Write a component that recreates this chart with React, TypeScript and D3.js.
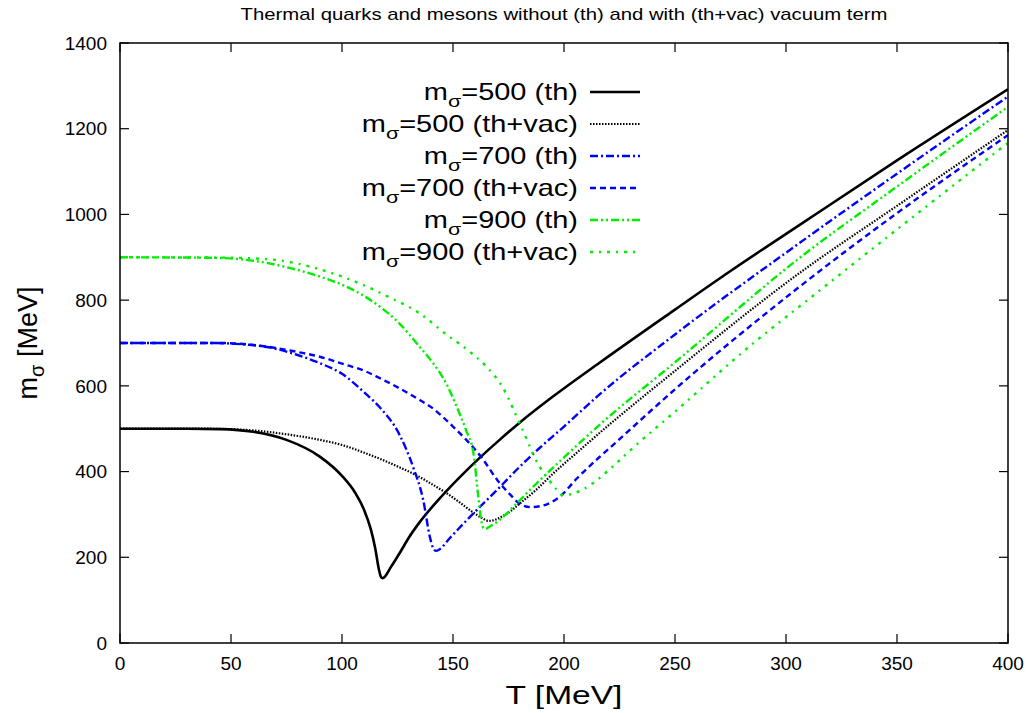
import React, { useEffect, useRef } from "react";
import * as d3 from "d3";

const W = 1031;
const H = 713;

const titleText = "Thermal quarks and mesons without (th) and with (th+vac) vacuum term";
const xTicks = [0, 50, 100, 150, 200, 250, 300, 350, 400];
const yTicks = [0, 200, 400, 600, 800, 1000, 1200, 1400];

const t500th = [0, 30, 45, 60, 75, 90, 100, 106, 110, 113, 115, 116.5, 117.5, 118.3, 119.5, 122, 126, 130, 135, 145, 155, 162, 171, 180, 195, 216, 250, 275, 306, 350, 400];
const m500th = [500, 500, 499, 493, 474, 435, 390, 350, 310, 265, 220, 175, 155, 151, 156, 177, 210, 245, 282, 343, 397, 432, 474, 514, 575, 654, 778, 868, 975, 1126, 1292];

const t500vac = [0, 40, 60, 75, 90, 100, 112, 117, 125, 134, 140, 147, 153, 159, 163, 166, 168, 172, 176, 180, 188, 195, 206, 216, 250, 306, 350, 400];
const m500vac = [500, 500, 496, 487, 474, 462, 440, 430, 412, 390, 372, 350, 328, 305, 292, 285, 286, 295, 308, 325, 360, 395, 445, 490, 635, 863, 1020, 1197];

const t700th = [0, 40, 55, 67, 80, 90, 100, 111, 117, 126, 132, 136.6, 139.6, 141, 142.3, 143.8, 148.6, 155, 162, 170, 180, 189, 200, 216, 250, 306, 350, 400];
const m700th = [700, 700, 697, 690, 672, 653, 628, 580, 550, 485, 411, 333, 247, 222, 215, 218, 245, 280, 317, 358, 411, 455, 505, 580, 720, 933, 1095, 1275];

const t700vac = [0, 45, 67, 81, 90, 100, 111, 117, 126, 135, 140, 150, 156, 163, 170, 176, 180, 185, 190, 198, 206, 216, 221, 250, 306, 350, 400];
const m700vac = [700, 700, 691, 678, 668, 652, 633, 618, 594, 567, 551, 505, 474, 432, 380, 345, 325, 317, 320, 341, 385, 434, 457, 592, 831, 1003, 1185];

const t900th = [0, 40, 60, 75, 90, 105, 117, 125, 135, 140, 147, 151.7, 156, 159.2, 161.4, 162.6, 163.5, 164.5, 166, 171, 178, 186, 200, 216, 250, 306, 350, 400];
const m900th = [900, 899, 892, 877, 855, 824, 785, 750, 691, 660, 605, 551, 495, 443, 341, 290, 270, 266, 270, 287, 322, 364, 433, 509, 655, 898, 1065, 1251];

const t900vac = [0, 50, 70, 81, 90, 100, 112, 120, 135, 147, 157, 165, 172, 180, 189, 194, 196.8, 199.6, 203, 208, 213, 222, 231, 250, 287, 306, 350, 400];
const m900vac = [900, 899, 894, 884, 872, 855, 830, 810, 769, 720, 682, 645, 600, 513, 411, 375, 357, 345, 347, 357, 373, 412, 455, 540, 707, 785, 965, 1167];

const seriesLabels = ["500 (th)", "500 (th+vac)", "700 (th)", "700 (th+vac)", "900 (th)", "900 (th+vac)"];
const seriesT = [t500th, t500vac, t700th, t700vac, t900th, t900vac];
const seriesM = [m500th, m500vac, m700th, m700vac, m900th, m900vac];
const seriesColor = ["#000000", "#000000", "#0000ff", "#0000ff", "#00ee00", "#00ee00"];
const seriesDash = ["", "1.5,1.5", "8,3,2,3", "6,4", "8,3,2,3,2,3", "3,6,2,6"];
const seriesWidth = [2.6, 2.2, 2.4, 2.4, 2.4, 2.4];

const PL = 120, PR = 1008, PT = 43, PB = 643;

export default function App() {
  const ref = useRef<SVGSVGElement>(null);

  useEffect(() => {
    document.body.style.margin = "0";
    const svg = d3.select(ref.current);
    svg.selectAll("*").remove();

    const x = d3.scaleLinear().domain([0, 400]).range([PL, PR]);
    const y = d3.scaleLinear().domain([0, 1400]).range([PB, PT]);
    const font = "'Liberation Sans', Arial, Helvetica, sans-serif";

    const stretched = (px: number, py: number, sx: number, size: number, anchor: string) =>
      svg.append("text").attr("transform", `translate(${px},${py}) scale(${sx},1)`)
        .attr("text-anchor", anchor).attr("font-family", font).attr("font-size", size);

    // title
    stretched(564, 20, 1.27, 16, "middle").text(titleText);

    const clipId = "plotclip";
    svg.append("clipPath").attr("id", clipId).append("rect")
      .attr("x", PL).attr("y", PT).attr("width", PR - PL).attr("height", PB - PT);

    // ticks (inward, mirrored)
    const tickLen = 9;
    const tg = svg.append("g").attr("stroke", "#000").attr("stroke-width", 1.2);
    xTicks.forEach((t) => {
      tg.append("line").attr("x1", x(t)).attr("x2", x(t)).attr("y1", PB).attr("y2", PB - tickLen);
      tg.append("line").attr("x1", x(t)).attr("x2", x(t)).attr("y1", PT).attr("y2", PT + tickLen);
    });
    yTicks.forEach((v) => {
      tg.append("line").attr("x1", PL).attr("x2", PL + tickLen).attr("y1", y(v)).attr("y2", y(v));
      tg.append("line").attr("x1", PR).attr("x2", PR - tickLen).attr("y1", y(v)).attr("y2", y(v));
    });

    xTicks.forEach((t) => {
      svg.append("text").attr("x", x(t)).attr("y", PB + 27).attr("text-anchor", "middle")
        .attr("font-family", font).attr("font-size", 19).text(String(t));
    });
    yTicks.forEach((v) => {
      svg.append("text").attr("x", PL - 13).attr("y", y(v)).attr("dy", "0.35em").attr("text-anchor", "end")
        .attr("font-family", font).attr("font-size", 19).text(String(v));
    });

    // axis labels
    stretched(564, 704, 1.29, 26, "middle").text("T [MeV]");
    const yl = svg.append("text").attr("transform", `translate(37,${(PT + PB) / 2}) rotate(-90)`)
      .attr("text-anchor", "middle").attr("font-family", font).attr("font-size", 27);
    yl.append("tspan").text("m");
    yl.append("tspan").attr("dy", 7).attr("font-size", 20).text("σ");
    yl.append("tspan").attr("dy", -7).text(" [MeV]");

    // curves
    const line = d3.line<[number, number]>().x((d) => x(d[0])).y((d) => y(d[1])).curve(d3.curveMonotoneX);
    const cg = svg.append("g").attr("clip-path", `url(#${clipId})`);
    seriesT.forEach((ts, i) => {
      const pts: [number, number][] = ts.map((t, k) => [t, seriesM[i][k]]);
      cg.append("path").attr("d", line(pts) as string).attr("fill", "none")
        .attr("stroke", seriesColor[i]).attr("stroke-width", seriesWidth[i])
        .attr("stroke-dasharray", seriesDash[i] || null).attr("stroke-linejoin", "round");
    });

    // legend
    const lg = svg.append("g");
    seriesLabels.forEach((lab, i) => {
      const yy = 92 + i * 32;
      const tx = stretched(578, yy + 8, 1.26, 23, "end");
      tx.append("tspan").text("m");
      tx.append("tspan").attr("dy", 7).attr("font-size", 17).text("σ");
      tx.append("tspan").attr("dy", -7).text("=" + lab);
      lg.append("line").attr("x1", 590).attr("x2", 640).attr("y1", yy).attr("y2", yy)
        .attr("stroke", seriesColor[i]).attr("stroke-width", seriesWidth[i])
        .attr("stroke-dasharray", seriesDash[i] || null);
    });

    // frame
    svg.append("rect").attr("x", PL).attr("y", PT).attr("width", PR - PL).attr("height", PB - PT)
      .attr("fill", "none").attr("stroke", "#000").attr("stroke-width", 1.5);
  }, []);

  return (
    <svg ref={ref} width={W} height={H} style={{ display: "block", background: "#fff" }} />
  );
}
